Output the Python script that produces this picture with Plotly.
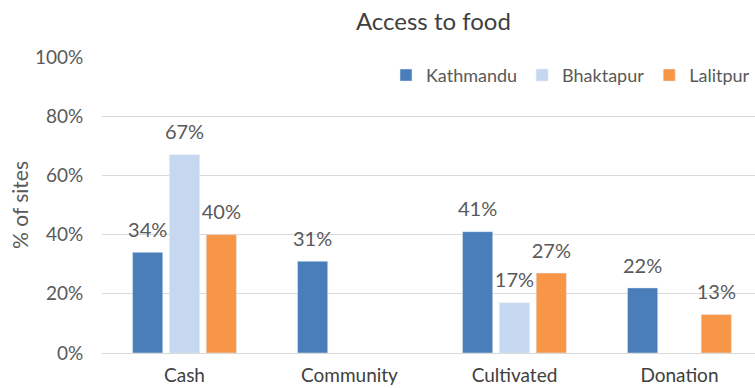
import plotly.graph_objects as go

categories = ["Cash", "Community", "Cultivated", "Donation"]
series_names = ["Kathmandu", "Bhaktapur", "Lalitpur"]
kathmandu = [0.34, 0.31, 0.41, 0.22]
bhaktapur = [0.67, None, 0.17, None]
lalitpur = [0.40, None, 0.27, 0.13]
colors = ["#4a7ebb", "#c5d8f0", "#f79646"]
y_ticks = [0, 0.2, 0.4, 0.6, 0.8, 1.0]
y_tick_labels = ["0%", "20%", "40%", "60%", "80%", "100%"]

font_family = "Lato, 'Open Sans', sans-serif"
grey = "#595959"
LABEL_LIFT = 0.028  # spacing between bar top and its value label (axis units)

fig = go.Figure()
for i, (name, vals, col) in enumerate(zip(series_names, [kathmandu, bhaktapur, lalitpur], colors)):
    fig.add_trace(go.Bar(
        x=categories, y=vals, name=name, marker_color=col,
        offsetgroup=str(i), hoverinfo="skip",
    ))
    # transparent spacer bar on top of each value, carrying the label
    fig.add_trace(go.Bar(
        x=categories,
        y=[LABEL_LIFT if v is not None else None for v in vals],
        base=[v if v is not None else None for v in vals],
        text=[f"{round(v*100)}%" if v is not None else "" for v in vals],
        textposition="outside", constraintext="none", cliponaxis=False,
        textfont=dict(size=20, color=grey, family=font_family),
        marker=dict(color="rgba(0,0,0,0)", line=dict(width=0)), offsetgroup=str(i),
        showlegend=False, hoverinfo="skip",
    ))

fig.update_layout(
    width=755, height=388,
    margin=dict(l=102, r=0, t=57, b=35, autoexpand=False),
    paper_bgcolor="white", plot_bgcolor="white",
    barmode="group", bargap=0.33, bargroupgap=0.18,
    title=dict(text="Access to food", x=0.574, xanchor="center", y=1 - 22/388, yanchor="middle",
               font=dict(size=24, color="#404040", family=font_family)),
    font=dict(family=font_family, color=grey),
    legend=dict(orientation="h", x=1.0, xanchor="right", y=0.938, yanchor="middle",
                font=dict(size=18, color=grey), bgcolor="rgba(0,0,0,0)",
                itemwidth=30, traceorder="normal"),
    showlegend=True,
)
fig.update_yaxes(range=[0, 1.0], tickvals=y_ticks, ticktext=y_tick_labels,
                 showgrid=True, gridcolor="#d9d9d9", gridwidth=1, zeroline=False,
                 tickfont=dict(size=19, color=grey), ticks="outside", ticklen=14,
                 tickcolor="rgba(0,0,0,0)", automargin=False,
                 title=dict(text="% of sites", font=dict(size=21, color=grey), standoff=0))
fig.update_xaxes(range=[-0.5, 3.458], showline=True, linecolor="#d9d9d9", linewidth=1,
                 tickfont=dict(size=19, color="#404040"), ticks="outside", ticklen=5,
                 tickcolor="rgba(0,0,0,0)", automargin=False)

fig.write_html("out.html", config={"displayModeBar": False},
               post_script="document.body.style.margin='0';document.body.style.overflow='hidden';")
